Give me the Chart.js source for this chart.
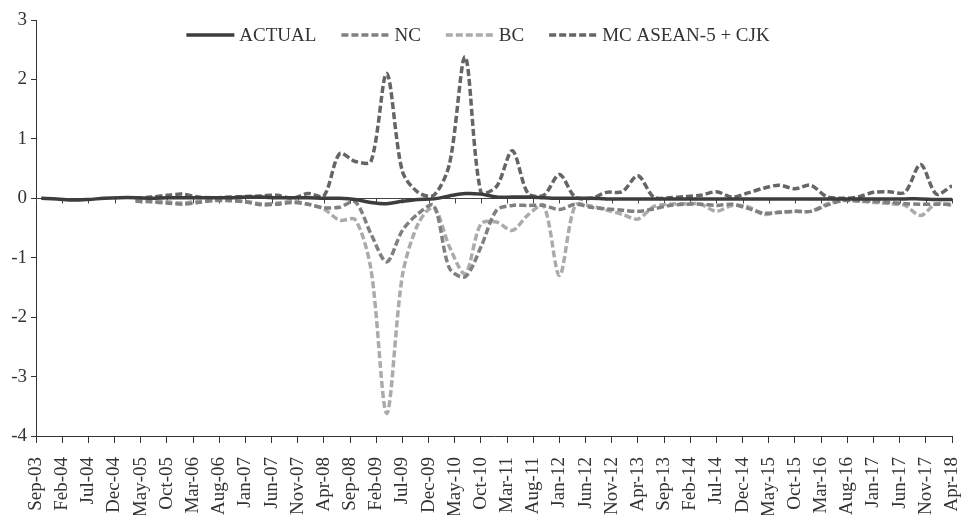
<!DOCTYPE html>
<html>
<head>
<meta charset="utf-8">
<script src="https://cdn.jsdelivr.net/npm/chart.js@4"></script>
<style>
  html, body { margin: 0; padding: 0; background: #fff; overflow: hidden; }
</style>
</head>
<body>
<canvas id="chart" width="962" height="515"></canvas>
<script>
// quarterly observations
const quarters = ['Oct-03',
  'Jan-04','Apr-04','Jul-04','Oct-04','Jan-05','Apr-05','Jul-05','Oct-05',
  'Jan-06','Apr-06','Jul-06','Oct-06','Jan-07','Apr-07','Jul-07','Oct-07',
  'Jan-08','Apr-08','Jul-08','Oct-08','Jan-09','Apr-09','Jul-09','Oct-09',
  'Jan-10','Apr-10','Jul-10','Oct-10','Jan-11','Apr-11','Jul-11','Oct-11',
  'Jan-12','Apr-12','Jul-12','Oct-12','Jan-13','Apr-13','Jul-13','Oct-13',
  'Jan-14','Apr-14','Jul-14','Oct-14','Jan-15','Apr-15','Jul-15','Oct-15',
  'Jan-16','Apr-16','Jul-16','Oct-16','Jan-17','Apr-17','Jul-17','Oct-17',
  'Jan-18','Apr-18'];

const actual = [0.00,-0.01,-0.03,-0.02,0.00,0.01,0.01,0.00,0.01,0.01,0.01,0.01,0.01,0.02,0.02,0.01,
  0.01,0.01,0.00,0.00,-0.02,-0.07,-0.09,-0.05,-0.02,-0.01,0.04,0.08,0.07,0.02,0.02,0.02,
  0.01,0.00,0.00,0.00,-0.01,-0.01,-0.01,-0.01,-0.01,-0.01,-0.01,-0.01,-0.01,-0.01,-0.01,-0.01,
  -0.01,-0.01,-0.01,-0.01,-0.01,-0.01,-0.01,-0.01,-0.01,-0.02,-0.02];

const nc = [null,null,null,null,null,null,
  -0.05,-0.06,-0.08,-0.10,-0.07,-0.04,-0.04,-0.06,-0.11,-0.10,-0.07,-0.10,-0.16,-0.15,
  -0.06,-0.60,-1.07,-0.54,-0.26,-0.12,-1.18,-1.32,-0.82,-0.20,-0.12,-0.12,-0.12,-0.19,
  -0.10,-0.15,-0.18,-0.20,-0.22,-0.18,-0.12,-0.10,-0.10,-0.12,-0.10,-0.17,-0.25,-0.24,
  -0.22,-0.22,-0.12,-0.04,-0.04,-0.05,-0.07,-0.09,-0.10,-0.10,-0.10];

const bc = [null,null,null,null,null,null,
  -0.03,-0.04,-0.06,-0.08,-0.05,-0.03,-0.03,-0.05,-0.09,-0.08,-0.05,-0.10,-0.18,-0.37,
  -0.36,-1.20,-3.62,-1.30,-0.43,-0.15,-0.82,-1.27,-0.43,-0.40,-0.54,-0.28,-0.12,-1.30,
  -0.12,-0.13,-0.20,-0.27,-0.35,-0.14,-0.10,-0.09,-0.10,-0.22,-0.12,-0.14,-0.27,-0.23,
  -0.22,-0.22,-0.10,-0.03,-0.05,-0.07,-0.09,-0.12,-0.29,-0.09,-0.12];

const mc = [null,null,null,null,null,null,
  0.00,0.02,0.05,0.07,0.02,0.01,0.02,0.03,0.04,0.05,0.00,0.08,0.04,0.75,
  0.62,0.62,2.10,0.45,0.10,0.05,0.58,2.38,0.10,0.20,0.80,0.08,0.05,0.40,
  0.02,0.00,0.10,0.11,0.38,0.02,0.01,0.03,0.05,0.11,0.02,0.09,0.17,0.22,
  0.16,0.22,0.03,0.00,0.02,0.10,0.11,0.10,0.57,0.07,0.21];

const tickLabels = ['Sep-03','Feb-04','Jul-04','Dec-04','May-05','Oct-05','Mar-06','Aug-06',
  'Jan-07','Jun-07','Nov-07','Apr-08','Sep-08','Feb-09','Jul-09','Dec-09','May-10','Oct-10',
  'Mar-11','Aug-11','Jan-12','Jun-12','Nov-12','Apr-13','Sep-13','Feb-14','Jul-14','Dec-14',
  'May-15','Oct-15','Mar-16','Aug-16','Jan-17','Jun-17','Nov-17','Apr-18'];

const MONTHS = ['Jan','Feb','Mar','Apr','May','Jun','Jul','Aug','Sep','Oct','Nov','Dec'];
// months counted from Sep-03
function monthIndex(lbl) {
  const [m, y] = lbl.split('-');
  return (2000 + Number(y)) * 12 + MONTHS.indexOf(m) - (2003 * 12 + 8);
}
const toPoints = vals => quarters.map((q, i) => ({ x: monthIndex(q), y: vals[i] }));

const FONT = "'Liberation Serif', 'Times New Roman', serif";
const TEXT = '#333333';

// zero line with small ticks, like the category axis crossing at 0
const zeroLine = {
  id: 'zeroLine',
  beforeDatasetsDraw(chart) {
    const { ctx, chartArea, scales } = chart;
    const y = Math.round(scales.y.getPixelForValue(0)) + 0.5;
    ctx.save();
    ctx.strokeStyle = '#444';
    ctx.lineWidth = 1;
    ctx.beginPath();
    ctx.moveTo(chartArea.left, y);
    ctx.lineTo(chartArea.right, y);
    scales.x.ticks.forEach(t => {
      const x = Math.round(scales.x.getPixelForValue(t.value)) + 0.5;
      ctx.moveTo(x, y);
      ctx.lineTo(x, y + 5);
    });
    ctx.stroke();
    ctx.restore();
  }
};

// legend drawn inside the plot area, on one row
const innerLegend = {
  id: 'innerLegend',
  afterDraw(chart) {
    const { ctx, chartArea } = chart;
    const sample = 48, gapText = 5, gapItem = 25;
    ctx.save();
    ctx.font = '19px ' + FONT;
    ctx.textBaseline = 'middle';
    const items = chart.data.datasets.map(ds => ({ ds, w: ctx.measureText(ds.label).width }));
    const total = items.reduce((s, it) => s + sample + gapText + it.w, 0) + gapItem * (items.length - 1);
    let x = (chartArea.left + chartArea.right) / 2 - total / 2 - 16;
    const y = 35;
    items.forEach(({ ds, w }) => {
      ctx.strokeStyle = ds.borderColor;
      ctx.lineWidth = ds.borderWidth;
      ctx.setLineDash(ds.borderDash || []);
      ctx.beginPath();
      ctx.moveTo(x, y);
      ctx.lineTo(x + sample, y);
      ctx.stroke();
      ctx.setLineDash([]);
      ctx.fillStyle = TEXT;
      ctx.fillText(ds.label, x + sample + gapText, y + 1);
      x += sample + gapText + w + gapItem;
    });
    ctx.restore();
  }
};

const dash = [7, 3];
new Chart(document.getElementById('chart'), {
  type: 'line',
  data: {
    datasets: [
      { label: 'ACTUAL', data: toPoints(actual), borderColor: '#3d3d3d', borderWidth: 3.5 },
      { label: 'NC', data: toPoints(nc), borderColor: '#808080', borderWidth: 3.5, borderDash: dash },
      { label: 'BC', data: toPoints(bc), borderColor: '#ababab', borderWidth: 3.5, borderDash: dash },
      { label: 'MC ASEAN-5 + CJK', data: toPoints(mc), borderColor: '#656565', borderWidth: 3.5, borderDash: dash }
    ]
  },
  options: {
    responsive: false,
    animation: false,
    devicePixelRatio: 1,
    layout: { padding: { top: 20, right: 10, left: 0, bottom: 0 } },
    elements: {
      point: { radius: 0 },
      line: { tension: 0.3, fill: false, borderCapStyle: 'butt' }
    },
    plugins: { legend: { display: false }, tooltip: { enabled: false } },
    scales: {
      x: {
        type: 'linear',
        min: 0,
        max: monthIndex('Apr-18'),
        afterBuildTicks: s => { s.ticks = tickLabels.map(l => ({ value: monthIndex(l) })); },
        afterFit: s => { s.height = 79; s.paddingLeft = 0; s.paddingRight = 0; },
        grid: { drawOnChartArea: false, tickLength: 7, color: '#333' },
        border: { color: '#333' },
        ticks: {
          autoSkip: false,
          minRotation: 90,
          maxRotation: 90,
          padding: 14,
          color: TEXT,
          font: { family: FONT, size: 19 },
          callback: v => tickLabels[tickLabels.findIndex(l => monthIndex(l) === v)]
        }
      },
      y: {
        min: -4,
        max: 3,
        afterFit: s => { s.width = 36; },
        grid: { drawOnChartArea: false, tickLength: 5, color: '#333' },
        border: { color: '#333' },
        ticks: { stepSize: 1, padding: 4, color: TEXT, font: { family: FONT, size: 19 } }
      }
    }
  },
  plugins: [zeroLine, innerLegend]
});
</script>
</body>
</html>
